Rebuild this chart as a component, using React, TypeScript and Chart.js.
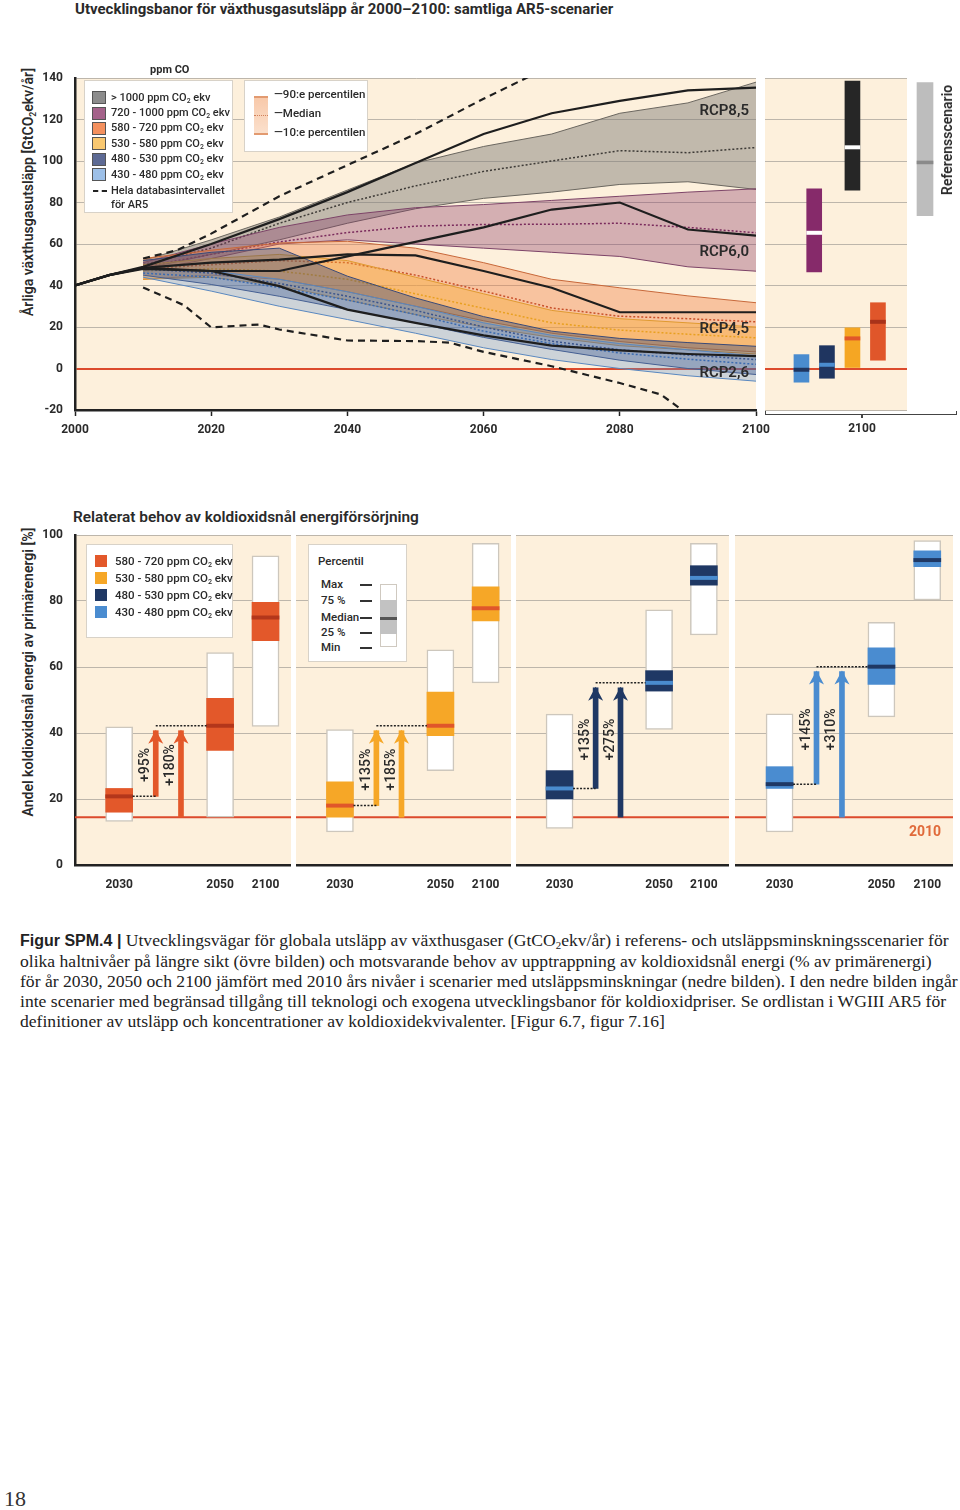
import React, { useEffect, useRef } from "react";
import { Chart, registerables } from "chart.js";
Chart.register(...registerables);

const SANS = "Roboto, 'Noto Sans', sans-serif";
const SERIF = "'Liberation Serif', 'DejaVu Serif', serif";
const TEXT = "#2a2a2a";
const BEIGE = "#fdf0dc";
const GRID = "#bdb6ab";
const RED = "#dc4a2c";

// ---------------- Upper panel data (GtCO2-ekv/år) ----------------
const BAND_YEARS = [2010, 2020, 2030, 2040, 2050, 2060, 2070, 2080, 2090, 2100];

const GT1000_HIGH = [52, 62, 73, 86, 99, 107, 113, 123, 128, 138];
const GT1000_MED = [50, 58, 70, 80, 88, 95, 100, 105, 104, 106.5];
const GT1000_LOW = [48, 55, 62, 70, 77, 82, 85, 88.7, 90, 86.3];

const P720_HIGH = [51, 60, 68, 74, 77.5, 79, 81, 83, 85, 86.6];
const P720_MED = [49, 55, 61, 65.5, 68.6, 69.4, 69.5, 70, 68, 65.4];
const P720_LOW = [47, 53, 60, 62, 60, 58, 56, 54, 49, 46.9];

const P580_HIGH = [53, 57, 60.5, 61.3, 58, 51, 43, 38.9, 35, 31.7];
const P580_MED = [48, 50, 52, 51, 45, 37.3, 29.2, 25.2, 24, 22.5];
const P580_LOW = [43, 45, 43, 37, 30, 23, 17, 13, 10, 8];

const P530_HIGH = [50, 53, 55, 52, 44, 36, 28, 24, 22, 20];
const P530_MED = [47, 48, 47, 43, 36, 29, 22, 18.5, 16.5, 14.8];
const P530_LOW = [43, 44, 40, 33, 26, 20, 15, 11, 9, 7];

const P480_HIGH = [52, 56, 58, 44.5, 34, 25, 18, 14.5, 12.5, 10.7];
const P480_MED = [48, 46, 41, 34.8, 28, 20, 13.2, 9, 6.5, 4.3];
const P480_LOW = [45, 40.5, 34.8, 28.4, 22, 15, 9.2, 4, 0, -2.9];

const P430_HIGH = [48, 47, 43, 37, 30, 22, 16, 12, 9, 6];
const P430_MED = [46, 44, 39, 33, 26, 18, 12, 7.5, 4.5, 2];
const P430_LOW = [44, 37.3, 30, 23.6, 17, 10, 4.3, 0, -3.5, -6.1];

const RCP_YEARS = [2000, 2005, 2010, 2020, 2030, 2040, 2050, 2060, 2070, 2080, 2090, 2100];
const RCP85 = [40, 45, 49, 60, 72, 85, 99, 113, 123, 129, 134, 135.4];
const RCP60 = [40, 45, 48, 47, 47, 54, 61, 68, 76.6, 80, 67, 64];
const RCP45 = [40, 45, 48.5, 51, 52.5, 55, 54.5, 47, 38.9, 27.1, 27.1, 27.1];
const RCP26 = [40, 45, 48.5, 47, 39.7, 28.4, 22, 16, 11, 8.7, 7, 6];

const DB_MAX_YEARS = [2010, 2015, 2020, 2030, 2040, 2050, 2060, 2070];
const DB_MAX = [53, 57, 65, 83, 98, 113, 130, 146];
const DB_MIN_YEARS = [2010, 2016, 2020, 2027, 2030, 2040, 2050, 2055, 2060, 2070, 2080, 2086, 2090, 2095];
const DB_MIN = [39, 30.5, 19.8, 21.2, 18.8, 13.5, 13.2, 12.5, 8, 1.1, -7, -12.5, -22, -30];

// 2100 summary bars (side panel)
const SIDE_CATEGORIES = ["430-480", "720-1000", "480-530", "530-580", ">1000", "580-720"];
const SIDE_SLOTS = [1, 1.5, 2, 3, 3, 4];
const SIDE_MIN = [-6.6, 46.6, -4.7, 0, 86, 4];
const SIDE_MEDIAN = [-0.6, 65.4, 1.8, 14.5, 106.6, 22.5];
const SIDE_MAX = [6.7, 86.6, 11, 19.6, 138.5, 31.7];
const SIDE_COLORS = ["#4a8ccf", "#862a6a", "#1f3560", "#f5a623", "#262626", "#e0562a"];
const SIDE_MED_COLORS = ["#1f3560", "#ffffff", "#4a8ccf", "#e0562a", "#ffffff", "#a8321a"];

const REF_MIN = 73.7;
const REF_MEDIAN = 99.3;
const REF_MAX = 137.8;

// ---------------- Lower panel data (% of primary energy) ----------------
const PANEL_YEARS = ["2030", "2050", "2100"];
const BOX_SLOTS = [1, 5, 6.8];
const ARROW_SLOTS = [2.45, 3.45];
const LEVEL_2010 = 14.5;

const P1_MIN = [13.2, 14.5, 42];
const P1_Q1 = [16, 34.7, 68];
const P1_MED = [20.8, 42.2, 75];
const P1_Q3 = [23.2, 50.5, 79.6];
const P1_MAX = [41.9, 64.4, 93.7];
const P1_ARROWS = ["+95%", "+180%"];

const P2_MIN = [10, 28.6, 55.2];
const P2_Q1 = [14.5, 39.2, 74];
const P2_MED = [18, 42.2, 77.8];
const P2_Q3 = [25.2, 52.4, 84.3];
const P2_MAX = [41, 65.2, 97.5];
const P2_ARROWS = ["+135%", "+185%"];

const P3_MIN = [11.1, 41.1, 69.7];
const P3_Q1 = [20, 52.7, 84.8];
const P3_MED = [23.2, 55.2, 87];
const P3_Q3 = [28.6, 58.9, 90.7];
const P3_MAX = [45.7, 77.3, 97.5];
const P3_ARROWS = ["+135%", "+275%"];

const P4_MIN = [10, 44.9, 80.3];
const P4_Q1 = [23.2, 54.7, 90.4];
const P4_MED = [24.5, 60.1, 92.4];
const P4_Q3 = [29.8, 65.8, 95.2];
const P4_MAX = [45.8, 73.5, 98.3];
const P4_ARROWS = ["+145%", "+310%"];

// ---------------- helpers ----------------
const pts = (xs: number[], ys: number[]) => xs.map((x, i) => ({ x, y: ys[i] }));
const gridColor = (c: any) => (c.tick && c.tick.value === 0 ? RED : GRID);
const gridWidth = (c: any) => (c.tick && c.tick.value === 0 ? 2 : 1);

const bgPlugin = {
  id: "panelBg",
  beforeDraw(chart: any) {
    const a = chart.chartArea;
    const ctx = chart.ctx;
    ctx.save();
    ctx.fillStyle = BEIGE;
    ctx.fillRect(a.left, a.top, a.right - a.left, a.bottom - a.top);
    ctx.restore();
  },
};

function ChartCanvas({ left, top, width, height, make }: any) {
  const ref = useRef<HTMLCanvasElement>(null);
  useEffect(() => {
    const chart = new Chart(ref.current as HTMLCanvasElement, make());
    return () => chart.destroy();
  }, []);
  return (
    <div style={{ position: "absolute", left, top, width, height }}>
      <canvas ref={ref} width={width} height={height} style={{ width, height, display: "block" }} />
    </div>
  );
}

function Txt({ x, y, size = 12, weight = 400, color = TEXT, family = SANS, align = "left", children, style }: any) {
  const lh = Math.round(size * 1.3);
  const s: any = {
    position: "absolute",
    top: y - lh / 2,
    fontSize: size,
    lineHeight: lh + "px",
    fontWeight: weight,
    color,
    fontFamily: family,
    whiteSpace: "nowrap",
  };
  if (align === "left") s.left = x;
  else if (align === "right") s.right = 960 - x;
  else {
    s.left = x;
    s.transform = "translateX(-50%)";
  }
  return <div style={{ ...s, ...style }}>{children}</div>;
}

function VTxt({ x, y, size = 13, weight = 600, color = TEXT, children }: any) {
  return (
    <div
      style={{
        position: "absolute",
        left: x,
        top: y,
        transform: "translate(-50%, -50%) rotate(-90deg)",
        fontSize: size,
        fontWeight: weight,
        color,
        fontFamily: SANS,
        whiteSpace: "nowrap",
        lineHeight: 1,
      }}
    >
      {children}
    </div>
  );
}

const Sub2 = () => <sub style={{ fontSize: "0.62em", verticalAlign: "-0.3em", lineHeight: 0 }}>2</sub>;

// ---------------- upper main chart ----------------
function makeMainConfig() {
  const bands = [
    { hi: GT1000_HIGH, med: GT1000_MED, lo: GT1000_LOW, fill: "rgba(120,118,112,0.45)", edge: "#6b6760", medc: "#3d3a36", order: 60 },
    { hi: P720_HIGH, med: P720_MED, lo: P720_LOW, fill: "rgba(135,55,100,0.35)", edge: "#7d4468", medc: "#7a2a5c", order: 50 },
    { hi: P580_HIGH, med: P580_MED, lo: P580_LOW, fill: "rgba(238,120,60,0.38)", edge: "#c8683a", medc: "#c8502a", order: 40 },
    { hi: P530_HIGH, med: P530_MED, lo: P530_LOW, fill: "rgba(248,170,50,0.38)", edge: "#e09a30", medc: "#e8a020", order: 30 },
    { hi: P480_HIGH, med: P480_MED, lo: P480_LOW, fill: "rgba(45,65,120,0.38)", edge: "#3a4a78", medc: "#2a3a70", order: 20 },
    { hi: P430_HIGH, med: P430_MED, lo: P430_LOW, fill: "rgba(95,145,210,0.3)", edge: "#5a88c0", medc: "#3a6ab0", order: 10 },
  ];
  const datasets: any[] = [];
  bands.forEach((b) => {
    datasets.push({ data: pts(BAND_YEARS, b.lo), borderColor: b.edge, borderWidth: 1, pointRadius: 0, fill: false, order: b.order });
    datasets.push({ data: pts(BAND_YEARS, b.hi), borderColor: b.edge, borderWidth: 1, pointRadius: 0, fill: "-1", backgroundColor: b.fill, order: b.order });
    datasets.push({ data: pts(BAND_YEARS, b.med), borderColor: b.medc, borderWidth: 1.5, borderDash: [2, 2], pointRadius: 0, fill: false, order: b.order - 1 });
  });
  [RCP85, RCP60, RCP45, RCP26].forEach((r) => {
    datasets.push({ data: pts(RCP_YEARS, r), borderColor: "#1e1e1e", borderWidth: 2.2, pointRadius: 0, fill: false, order: 2 });
  });
  datasets.push({ data: pts(DB_MAX_YEARS, DB_MAX), borderColor: "#1e1e1e", borderWidth: 2.2, borderDash: [7, 5], pointRadius: 0, fill: false, order: 1 });
  datasets.push({ data: pts(DB_MIN_YEARS, DB_MIN), borderColor: "#1e1e1e", borderWidth: 2.2, borderDash: [7, 5], pointRadius: 0, fill: false, order: 1 });

  return {
    type: "line",
    data: { datasets },
    options: {
      animation: false,
      responsive: false,
      events: [],
      layout: { padding: { top: 20, right: 44, bottom: 0, left: 0 } },
      plugins: { legend: { display: false }, tooltip: { enabled: false } },
      scales: {
        x: {
          type: "linear",
          min: 2000,
          max: 2100,
          ticks: { stepSize: 20, color: TEXT, font: { size: 12, weight: "bold", family: SANS }, padding: 7, callback: (v: any) => String(v) },
          grid: { display: true, drawOnChartArea: false, drawTicks: true, tickLength: 6, tickColor: "#222", tickWidth: 1.5 },
          border: { display: true, color: "#222", width: 2.5 },
          afterFit: (s: any) => {
            s.height = 40;
          },
        },
        y: {
          min: -20,
          max: 140,
          ticks: { stepSize: 20, color: TEXT, font: { size: 12, weight: "bold", family: SANS }, padding: 12 },
          grid: { color: gridColor, lineWidth: gridWidth, drawTicks: false },
          border: { display: true, color: "#222", width: 2.5 },
          afterFit: (s: any) => {
            s.width = 75;
          },
        },
      },
    },
    plugins: [bgPlugin],
  };
}

function makeSideConfig() {
  return {
    type: "bar",
    data: {
      labels: SIDE_CATEGORIES,
      datasets: [
        {
          data: SIDE_SLOTS.map((s, i) => ({ x: s, y: [SIDE_MIN[i], SIDE_MAX[i]] })),
          backgroundColor: SIDE_COLORS,
          barThickness: 15,
          grouped: false,
          borderSkipped: false,
          order: 2,
        },
        {
          data: SIDE_SLOTS.map((s, i) => ({ x: s, y: [SIDE_MEDIAN[i] - 0.8, SIDE_MEDIAN[i] + 0.8] })),
          backgroundColor: SIDE_MED_COLORS,
          barThickness: 15,
          grouped: false,
          borderSkipped: false,
          order: 1,
        },
      ],
    },
    options: {
      animation: false,
      responsive: false,
      events: [],
      layout: { padding: { top: 20, bottom: 10, left: 0, right: 0 } },
      plugins: { legend: { display: false }, tooltip: { enabled: false } },
      scales: {
        x: { type: "linear", min: -0.43, max: 5.14, display: false, offset: false, grid: { offset: false } },
        y: {
          min: -20,
          max: 140,
          ticks: { display: false, stepSize: 20 },
          border: { display: false },
          grid: { color: gridColor, lineWidth: gridWidth, drawTicks: false },
          afterFit: (s: any) => {
            s.width = 0;
          },
        },
      },
    },
    plugins: [bgPlugin],
  };
}

function makeRefConfig() {
  return {
    type: "bar",
    data: {
      labels: ["Referensscenario"],
      datasets: [
        { data: [{ x: 1, y: [REF_MIN, REF_MAX] }], backgroundColor: "#bdbdbd", barThickness: 16, grouped: false, borderSkipped: false, order: 2 },
        { data: [{ x: 1, y: [REF_MEDIAN - 0.7, REF_MEDIAN + 0.7] }], backgroundColor: "#8a8a8a", barThickness: 16, grouped: false, borderSkipped: false, order: 1 },
      ],
    },
    options: {
      animation: false,
      responsive: false,
      events: [],
      layout: { padding: { top: 20, bottom: 10, left: 0, right: 0 } },
      plugins: { legend: { display: false }, tooltip: { enabled: false } },
      scales: {
        x: { type: "linear", min: 0, max: 2, display: false, offset: false },
        y: { min: -20, max: 140, display: false },
      },
    },
  };
}

// ---------------- lower panels ----------------
const PANEL_X_MIN = -0.75;
const PANEL_X_MAX = 7.81;

function makePanelConfig(p: any, withAxis: boolean) {
  const arrowPlugin = {
    id: "arrows",
    afterDatasetsDraw(chart: any) {
      const ctx = chart.ctx;
      const ys = chart.scales.y;
      const boxes = chart.getDatasetMeta(0).data;
      const arrows = chart.getDatasetMeta(3).data;
      const y0 = ys.getPixelForValue(p.med[0]);
      const y1 = ys.getPixelForValue(p.med[1]);
      ctx.save();
      ctx.strokeStyle = "#222";
      ctx.lineWidth = 1.5;
      ctx.setLineDash([2, 1.5]);
      ctx.beginPath();
      ctx.moveTo(boxes[0].x + boxes[0].width / 2, y0);
      ctx.lineTo(arrows[0].x, y0);
      ctx.moveTo(arrows[0].x, y1);
      ctx.lineTo(boxes[1].x - boxes[1].width / 2, y1);
      ctx.stroke();
      ctx.setLineDash([]);
      ctx.fillStyle = p.color;
      arrows.forEach((el: any) => {
        const top = Math.min(el.y, el.base);
        ctx.beginPath();
        ctx.moveTo(el.x, top - 1);
        ctx.lineTo(el.x + 7.5, top + 13);
        ctx.lineTo(el.x, top + 9);
        ctx.lineTo(el.x - 7.5, top + 13);
        ctx.closePath();
        ctx.fill();
      });
      ctx.fillStyle = TEXT;
      ctx.font = `500 14px ${SANS}`;
      ctx.textAlign = "center";
      ctx.textBaseline = "middle";
      const ym = (y0 + y1) / 2 + 4;
      arrows.forEach((el: any, i: number) => {
        ctx.save();
        ctx.translate(el.x - 10, ym);
        ctx.rotate(-Math.PI / 2);
        ctx.fillText(p.labels[i], 0, 0);
        ctx.restore();
      });
      ctx.restore();
    },
  };
  return {
    type: "bar",
    data: {
      datasets: [
        {
          data: BOX_SLOTS.map((s, i) => ({ x: s, y: [p.min[i], p.max[i]] })),
          backgroundColor: "#ffffff",
          borderColor: "#cdc7bd",
          borderWidth: 1.5,
          borderSkipped: false,
          barThickness: 27,
          grouped: false,
          order: 5,
        },
        {
          data: BOX_SLOTS.map((s, i) => ({ x: s, y: [p.q1[i], p.q3[i]] })),
          backgroundColor: p.color,
          borderSkipped: false,
          barThickness: 27,
          grouped: false,
          order: 4,
        },
        {
          data: BOX_SLOTS.map((s, i) => ({ x: s, y: [p.med[i] - 0.5, p.med[i] + 0.5] })),
          backgroundColor: p.medColor,
          borderSkipped: false,
          barThickness: 27,
          grouped: false,
          order: 3,
        },
        {
          data: ARROW_SLOTS.map((s, i) => ({ x: s, y: [i === 0 ? p.med[0] : LEVEL_2010, p.med[1] - 1.5] })),
          backgroundColor: p.color,
          borderSkipped: false,
          barThickness: 5,
          grouped: false,
          order: 2,
        },
        {
          type: "line",
          data: [
            { x: PANEL_X_MIN, y: LEVEL_2010 },
            { x: PANEL_X_MAX, y: LEVEL_2010 },
          ],
          borderColor: RED,
          borderWidth: 2,
          pointRadius: 0,
          fill: false,
          order: 10,
        },
      ],
    },
    options: {
      animation: false,
      responsive: false,
      events: [],
      layout: { padding: { top: 20, bottom: 0, left: 0, right: 0 } },
      plugins: { legend: { display: false }, tooltip: { enabled: false } },
      scales: {
        x: {
          type: "linear",
          min: PANEL_X_MIN,
          max: PANEL_X_MAX,
          offset: false,
          afterBuildTicks: (s: any) => {
            s.ticks = BOX_SLOTS.map((v) => ({ value: v }));
          },
          ticks: {
            autoSkip: false,
            maxRotation: 0,
            minRotation: 0,
            color: TEXT,
            font: { size: 12, weight: "bold", family: SANS },
            padding: 5,
            callback: (v: any) => PANEL_YEARS[BOX_SLOTS.indexOf(v)] || "",
          },
          grid: { display: false, offset: false },
          border: { display: true, color: "#222", width: 2.5 },
          afterFit: (s: any) => {
            s.height = 35;
          },
        },
        y: {
          min: 0,
          max: 100,
          ticks: withAxis
            ? { stepSize: 20, color: TEXT, font: { size: 12, weight: "bold", family: SANS }, padding: 12 }
            : { display: false, stepSize: 20 },
          grid: { color: GRID, lineWidth: 1, drawTicks: false },
          border: withAxis ? { display: true, color: "#222", width: 2.5 } : { display: false },
          afterFit: (s: any) => {
            s.width = withAxis ? 75 : 0;
          },
        },
      },
    },
    plugins: [bgPlugin, arrowPlugin],
  };
}

const PANELS = [
  { min: P1_MIN, q1: P1_Q1, med: P1_MED, q3: P1_Q3, max: P1_MAX, labels: P1_ARROWS, color: "#e3582a", medColor: "#b3361b" },
  { min: P2_MIN, q1: P2_Q1, med: P2_MED, q3: P2_Q3, max: P2_MAX, labels: P2_ARROWS, color: "#f6a727", medColor: "#e0562a" },
  { min: P3_MIN, q1: P3_Q1, med: P3_MED, q3: P3_Q3, max: P3_MAX, labels: P3_ARROWS, color: "#1f3864", medColor: "#4a8ccf" },
  { min: P4_MIN, q1: P4_Q1, med: P4_MED, q3: P4_Q3, max: P4_MAX, labels: P4_ARROWS, color: "#4a8cd0", medColor: "#1f3864" },
];

function Swatch({ x, y, w = 14, h = 13, color, border = "#555" }: any) {
  return <div style={{ position: "absolute", left: x, top: y - h / 2, width: w, height: h, background: color, border: `1px solid ${border}`, boxSizing: "border-box" }} />;
}

export default function App() {
  const upperLegend = [
    { c: "#8c8c8c", t: <>{"> 1000  ppm CO"}<Sub2 /> ekv</> },
    { c: "#a4628a", t: <>720 - 1000 ppm CO<Sub2 /> ekv</> },
    { c: "#f3905e", t: <>580 - 720 ppm CO<Sub2 /> ekv</> },
    { c: "#f9c870", t: <>530 - 580 ppm CO<Sub2 /> ekv</> },
    { c: "#5d6a94", t: <>480 - 530 ppm CO<Sub2 /> ekv</> },
    { c: "#9dc0e8", t: <>430 - 480 ppm CO<Sub2 /> ekv</> },
  ];
  const upperRows = [97.7, 113.3, 128.3, 143.8, 159.3, 174.5];
  const lowerLegend = [
    { c: "#e3582a", t: <>580 - 720 ppm CO<Sub2 /> ekv</> },
    { c: "#f6a727", t: <>530 - 580 ppm CO<Sub2 /> ekv</> },
    { c: "#1f3864", t: <>480 - 530 ppm CO<Sub2 /> ekv</> },
    { c: "#4a8cd0", t: <>430 - 480 ppm CO<Sub2 /> ekv</> },
  ];
  const lowerRows = [561, 578, 595, 612];
  const pct = [
    { t: "Max", y: 584 },
    { t: "75 %", y: 600 },
    { t: "Median", y: 617 },
    { t: "25 %", y: 632 },
    { t: "Min", y: 647 },
  ];
  return (
    <div style={{ position: "absolute", left: 0, top: 0, width: 960, height: 1510, background: "#fff", overflow: "hidden" }}>
      <Txt x={75} y={9} size={15} weight={700}>
        Utvecklingsbanor för växthusgasutsläpp år 2000–2100: samtliga AR5-scenarier
      </Txt>
      <VTxt x={28} y={192} size={14}>
        Årliga växthusgasutsläpp [GtCO<Sub2 />ekv/år]
      </VTxt>

      <ChartCanvas left={0} top={58} width={800} height={392} make={makeMainConfig} />
      <ChartCanvas left={765} top={58} width={142} height={362} make={makeSideConfig} />
      <ChartCanvas left={900} top={58} width={50} height={362} make={makeRefConfig} />

      {/* side bracket */}
      <div style={{ position: "absolute", left: 765, top: 411, width: 192, height: 4, borderLeft: "1.5px solid #444", borderRight: "1.5px solid #444", borderBottom: "1.5px solid #444", boxSizing: "border-box" }} />
      <div style={{ position: "absolute", left: 861, top: 414, width: 1.5, height: 4, background: "#444" }} />
      <Txt x={862} y={428} size={12} weight={700} align="center">2100</Txt>
      <VTxt x={947} y={140} size={14}>Referensscenario</VTxt>

      {/* upper legend 1 */}
      <Txt x={150} y={70} size={11} weight={700}>ppm CO</Txt>
      <div style={{ position: "absolute", left: 84, top: 80, width: 149, height: 133, background: "#fff", border: "1px solid #d8d2c8", boxSizing: "border-box" }} />
      {upperLegend.map((r, i) => (
        <React.Fragment key={i}>
          <Swatch x={92} y={upperRows[i]} color={r.c} />
          <Txt x={111} y={upperRows[i]} size={11} weight={500}>{r.t}</Txt>
        </React.Fragment>
      ))}
      <div style={{ position: "absolute", left: 93, top: 189.5, width: 14, height: 0, borderTop: "2px dashed #222" }} />
      <Txt x={111} y={190.5} size={11} weight={500}>Hela databasintervallet</Txt>
      <Txt x={111} y={204.5} size={11} weight={500}>för AR5</Txt>

      {/* upper legend 2 */}
      <div style={{ position: "absolute", left: 244, top: 80, width: 124, height: 72, background: "#fff", border: "1px solid #d8d2c8", boxSizing: "border-box" }} />
      <div style={{ position: "absolute", left: 254, top: 96, width: 14, height: 39, background: "linear-gradient(#f8c9aa, #fbe0cc)", borderTop: "2px solid #e29a70", borderBottom: "2px solid #e29a70", boxSizing: "border-box" }} />
      <div style={{ position: "absolute", left: 254, top: 115, width: 14, height: 0, borderTop: "1.5px dotted #d0805a" }} />
      <Txt x={274} y={94.3} size={11.5} weight={500}>—90:e percentilen</Txt>
      <Txt x={274} y={113.3} size={11.5} weight={500}>—Median</Txt>
      <Txt x={274} y={132.3} size={11.5} weight={500}>—10:e percentilen</Txt>

      {/* RCP labels */}
      <Txt x={749} y={110} size={15} weight={600} align="right">RCP8,5</Txt>
      <Txt x={749} y={251} size={15} weight={600} align="right">RCP6,0</Txt>
      <Txt x={749} y={328} size={15} weight={600} align="right">RCP4,5</Txt>
      <Txt x={749} y={372} size={15} weight={600} align="right">RCP2,6</Txt>

      {/* lower chart */}
      <Txt x={73} y={517} size={15.4} weight={600}>
        Relaterat behov av koldioxidsnål energiförsörjning
      </Txt>
      <VTxt x={28} y={672} size={14}>
        Andel koldioxidsnål energi av primärenergi [%]
      </VTxt>
      <ChartCanvas left={0} top={515} width={291} height={385} make={() => makePanelConfig(PANELS[0], true)} />
      <ChartCanvas left={296} top={515} width={215} height={385} make={() => makePanelConfig(PANELS[1], false)} />
      <ChartCanvas left={516} top={515} width={213} height={385} make={() => makePanelConfig(PANELS[2], false)} />
      <ChartCanvas left={735} top={515} width={218} height={385} make={() => makePanelConfig(PANELS[3], false)} />

      {/* lower legend 1 */}
      <div style={{ position: "absolute", left: 86, top: 544, width: 147, height: 94, background: "#fff", border: "1px solid #d8d2c8", boxSizing: "border-box" }} />
      {lowerLegend.map((r, i) => (
        <React.Fragment key={i}>
          <Swatch x={95} y={lowerRows[i]} w={12} h={12} color={r.c} border={r.c} />
          <Txt x={115} y={lowerRows[i]} size={11.5} weight={500}>{r.t}</Txt>
        </React.Fragment>
      ))}

      {/* lower legend 2 */}
      <div style={{ position: "absolute", left: 308, top: 544, width: 99, height: 118, background: "#fff", border: "1px solid #d8d2c8", boxSizing: "border-box" }} />
      <Txt x={318} y={561} size={11.5} weight={500}>Percentil</Txt>
      {pct.map((r, i) => (
        <React.Fragment key={i}>
          <Txt x={321} y={r.y} size={11.5} weight={500}>{r.t}</Txt>
          <div style={{ position: "absolute", left: 360, top: r.y, width: 12, height: 1.5, background: "#333" }} />
        </React.Fragment>
      ))}
      <div style={{ position: "absolute", left: 380, top: 584, width: 17, height: 63, background: "#fff", border: "1px solid #cfc9c0", boxSizing: "border-box" }} />
      <div style={{ position: "absolute", left: 380, top: 600, width: 17, height: 34, background: "#c2c2c2" }} />
      <div style={{ position: "absolute", left: 380, top: 617, width: 17, height: 3, background: "#555" }} />

      <Txt x={925} y={831} size={14} weight={700} color="#e06a3a" align="center">2010</Txt>

      {/* caption */}
      <div style={{ position: "absolute", left: 20, top: 930, fontFamily: SERIF, fontSize: 17.6, lineHeight: "20px", color: "#222", whiteSpace: "nowrap" }}>
        <div>
          <b style={{ fontFamily: "'Liberation Sans', Arial, sans-serif", fontSize: 16 }}>Figur SPM.4 |</b> Utvecklingsvägar för globala utsläpp av växthusgaser (GtCO<Sub2 />ekv/år) i referens- och utsläppsminskningsscenarier för
        </div>
        <div>olika haltnivåer på längre sikt (övre bilden) och motsvarande behov av upptrappning av koldioxidsnål energi (% av primärenergi)</div>
        <div>för år 2030, 2050 och 2100 jämfört med 2010 års nivåer i scenarier med utsläppsminskningar (nedre bilden). I den nedre bilden ingår</div>
        <div>inte scenarier med begränsad tillgång till teknologi och exogena utvecklingsbanor för koldioxidpriser. Se ordlistan i WGIII AR5 för</div>
        <div>definitioner av utsläpp och koncentrationer av koldioxidekvivalenter. [Figur 6.7, figur 7.16]</div>
      </div>
      <div style={{ position: "absolute", left: 4, top: 1486, fontFamily: SERIF, fontSize: 22, color: "#333" }}>18</div>
    </div>
  );
}
